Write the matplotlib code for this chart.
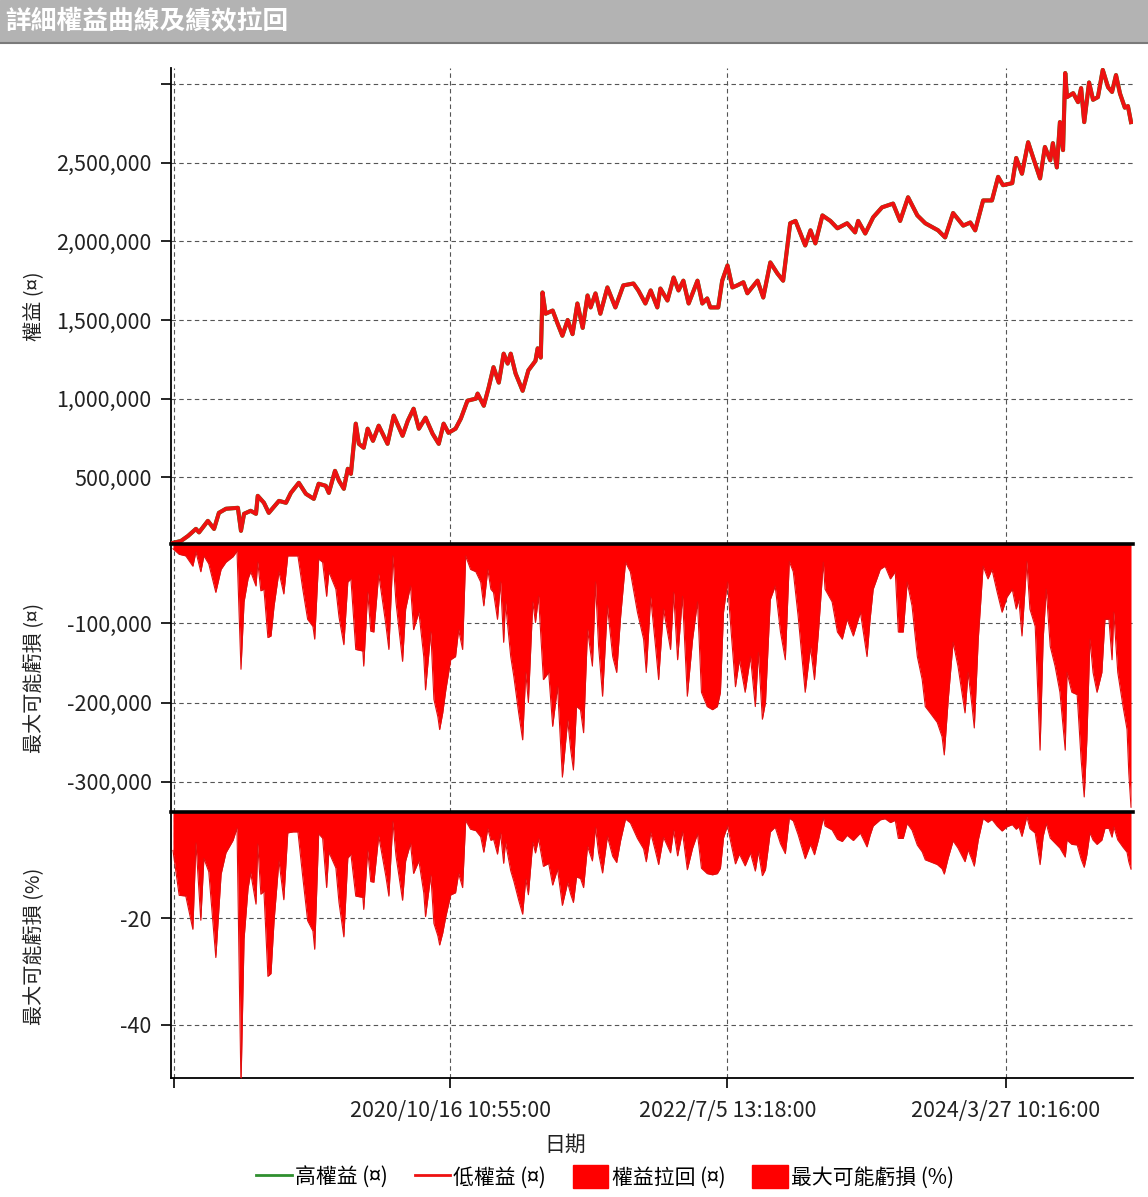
import numpy as np
import matplotlib.pyplot as plt
import matplotlib.dates as mdates
from matplotlib.lines import Line2D
from matplotlib.patches import Patch, Rectangle
from datetime import datetime

plt.rcParams['font.family'] = ['Noto Sans CJK TC', 'DejaVu Sans']

# 權益曲線 (days since 2019/1/27, equity in thousands)
eq_day = np.array([0, 18, 34, 52, 59, 79, 93, 104, 120, 147, 154, 161, 176, 188, 192, 206, 217, 240, 256, 267,
                   285, 301, 319, 330, 346, 353, 367, 376, 387, 396, 403, 414, 421, 432, 441, 453, 466, 486, 500, 520,
                   532, 545, 557, 572, 588, 602, 613, 624, 640, 652, 667, 686, 690, 704, 715, 726, 738, 749, 758, 765,
                   776, 792, 805, 821, 826, 833, 837, 844, 860, 871, 882, 894, 905, 916, 928, 939, 946, 957, 968, 984,
                   1002, 1020, 1043, 1054, 1070, 1082, 1097, 1104, 1120, 1134, 1145, 1156, 1168, 1188, 1199, 1210, 1217, 1235, 1244, 1256,
                   1267, 1278, 1292, 1301, 1324, 1337, 1353, 1369, 1382, 1398, 1410, 1432, 1444, 1455, 1471, 1489, 1505, 1527, 1545, 1552,
                   1568, 1586, 1606, 1631, 1647, 1665, 1686, 1704, 1733, 1749, 1767, 1790, 1806, 1817, 1835, 1855, 1869, 1880, 1901, 1910,
                   1923, 1937, 1948, 1964, 1975, 1987, 1993, 2002, 2009, 2016, 2021, 2025, 2039, 2050, 2057, 2064, 2075, 2084, 2095, 2106,
                   2118, 2127, 2136, 2145, 2156, 2163, 2170])
equity_k = np.array([83, 95, 127, 172, 150, 223, 172, 274, 300, 306, 160, 268, 287, 268, 382, 338, 274, 350, 338, 401,
                     465, 395, 363, 459, 446, 401, 541, 478, 427, 554, 522, 841, 713, 688, 809, 732, 828, 713, 892, 764,
                     860, 936, 809, 879, 777, 713, 841, 783, 809, 873, 987, 1000, 1032, 955, 1070, 1200, 1102, 1286, 1223, 1286,
                     1160, 1050, 1180, 1240, 1320, 1261, 1675, 1540, 1560, 1478, 1400, 1500, 1410, 1605, 1450, 1656, 1580, 1669, 1540, 1707,
                     1580, 1720, 1732, 1688, 1605, 1688, 1580, 1700, 1624, 1770, 1688, 1750, 1605, 1750, 1605, 1637, 1580, 1580, 1750, 1847,
                     1707, 1720, 1740, 1670, 1750, 1643, 1866, 1796, 1750, 2115, 2130, 1974, 2070, 1987, 2165, 2130, 2083, 2115, 2057, 2130,
                     2050, 2153, 2216, 2240, 2130, 2280, 2165, 2115, 2070, 2025, 2180, 2100, 2120, 2070, 2260, 2260, 2410, 2357, 2370, 2530,
                     2430, 2630, 2535, 2400, 2600, 2515, 2624, 2470, 2758, 2580, 3070, 2917, 2942, 2885, 2974, 2758, 3010, 2900, 2917, 3090,
                     2980, 2950, 3057, 2940, 2850, 2860, 2758])

# 權益拉回 (days, thousands)
dd_day = np.array([0, 14, 29, 45, 52, 63, 70, 81, 97, 109, 120, 136, 145, 154, 161, 170, 176, 188, 192, 199,
                   206, 215, 222, 229, 240, 251, 260, 272, 283, 294, 305, 317, 321, 330, 339, 348, 353, 369, 376, 387,
                   396, 403, 414, 430, 432, 441, 448, 455, 466, 482, 489, 498, 505, 520, 527, 538, 545, 557, 568, 572,
                   584, 591, 600, 604, 611, 618, 629, 640, 647, 656, 663, 674, 686, 697, 704, 713, 720, 726, 735, 742,
                   749, 753, 765, 772, 783, 792, 799, 805, 815, 821, 828, 839, 851, 860, 871, 882, 894, 901, 907, 914,
                   923, 930, 939, 950, 957, 964, 973, 984, 996, 1005, 1014, 1025, 1036, 1052, 1066, 1072, 1082, 1093, 1100, 1111,
                   1127, 1134, 1143, 1154, 1165, 1177, 1188, 1197, 1210, 1222, 1233, 1240, 1247, 1256, 1265, 1274, 1283, 1296, 1308, 1319,
                   1326, 1335, 1342, 1353, 1364, 1376, 1387, 1396, 1405, 1416, 1432, 1444, 1453, 1462, 1473, 1477, 1493, 1505, 1516, 1527,
                   1541, 1557, 1572, 1579, 1586, 1602, 1613, 1625, 1636, 1643, 1654, 1663, 1674, 1686, 1697, 1704, 1715, 1731, 1742, 1747,
                   1756, 1767, 1778, 1794, 1801, 1810, 1815, 1824, 1835, 1846, 1855, 1867, 1878, 1889, 1901, 1910, 1916, 1923, 1934, 1941,
                   1953, 1964, 1971, 1978, 1987, 1998, 2009, 2021, 2025, 2036, 2048, 2057, 2064, 2070, 2077, 2084, 2093, 2104, 2111, 2120,
                   2127, 2131, 2140, 2152, 2161, 2165, 2170])
dd_k = np.array([-6, -13, -15, -28, -10, -35, -15, -25, -61, -32, -23, -16, -9, -158, -73, -44, -35, -53, -23, -59,
                 -57, -118, -116, -78, -35, -63, -15, -15, -15, -57, -95, -104, -120, -19, -23, -66, -35, -57, -92, -127,
                 -48, -44, -133, -135, -154, -61, -110, -111, -38, -101, -133, -15, -73, -148, -82, -53, -108, -86, -142, -184,
                 -111, -196, -218, -234, -213, -184, -146, -142, -108, -133, -15, -32, -35, -48, -78, -32, -57, -61, -95, -48,
                 -124, -73, -142, -167, -213, -247, -162, -200, -73, -99, -66, -171, -162, -230, -180, -294, -222, -260, -285, -205,
                 -209, -238, -108, -154, -48, -129, -192, -78, -142, -162, -91, -23, -35, -86, -120, -162, -67, -129, -171, -82,
                 -133, -61, -146, -66, -192, -120, -73, -187, -205, -209, -205, -187, -86, -48, -116, -180, -146, -187, -142, -205,
                 -137, -221, -200, -70, -53, -111, -146, -22, -35, -91, -187, -130, -171, -111, -23, -57, -73, -111, -120, -95,
                 -116, -86, -142, -95, -57, -32, -28, -44, -35, -111, -111, -48, -78, -142, -171, -205, -213, -225, -243, -266,
                 -196, -124, -154, -213, -162, -205, -232, -120, -28, -44, -32, -61, -86, -67, -57, -82, -70, -116, -22, -82,
                 -104, -260, -120, -57, -129, -154, -187, -260, -162, -187, -190, -272, -319, -247, -120, -162, -187, -162, -95, -95,
                 -146, -86, -162, -205, -234, -289, -332])

base = datetime(2019, 1, 27)
tick_dates = [datetime(2019, 1, 29), datetime(2020, 10, 16, 10, 55), datetime(2022, 7, 5, 13, 18), datetime(2024, 3, 27, 10, 16)]
tick_labels = ['', '2020/10/16 10:55:00', '2022/7/5 13:18:00', '2024/3/27 10:16:00']

x0 = mdates.date2num(base)
eq_x = x0 + eq_day
dd_x = x0 + dd_day
equity = equity_k * 1000
dd = dd_k * 1000

# 最大可能虧損 (%) relative to running peak equity
peak = np.maximum.accumulate(equity)
idx = np.clip(np.searchsorted(eq_day, dd_day, side='right') - 1, 0, len(eq_day) - 1)
dd_pct = dd / peak[idx] * 100

W, H = 1148, 1197
fig = plt.figure(figsize=(W / 100, H / 100), dpi=100)

def fy(p):
    return 1 - p / H

left, right = 171 / W, 1133 / W
ax1 = fig.add_axes([left, fy(544), right - left, fy(68) - fy(544)])
ax2 = fig.add_axes([left, fy(812), right - left, fy(544) - fy(812)], sharex=ax1)
ax3 = fig.add_axes([left, fy(1078), right - left, fy(812) - fy(1078)], sharex=ax1)

red = '#ff0000'
ax1.plot(eq_x, equity, color='#2f8f2f', lw=3.0, zorder=3)
ax1.plot(eq_x, equity, color='#ee1111', lw=2.8, zorder=4)
ax2.fill_between(dd_x, dd, 0, color=red, lw=0, zorder=3)
ax2.plot(dd_x, dd, color='#e01010', lw=0.8, zorder=3)
ax3.fill_between(dd_x, dd_pct, 0, color=red, lw=0, zorder=3)
ax3.plot(dd_x, dd_pct, color='#e01010', lw=0.8, zorder=3)

ax1.set_ylim(76000, 3102000)
ax1.set_yticks([500000, 1000000, 1500000, 2000000, 2500000, 3000000])
ax1.set_yticklabels(['500,000', '1,000,000', '1,500,000', '2,000,000', '2,500,000', ''])
ax2.set_ylim(-338000, 0)
ax2.set_yticks([-100000, -200000, -300000])
ax2.set_yticklabels(['-100,000', '-200,000', '-300,000'])
ax3.set_ylim(-50, 0)
ax3.set_yticks([-20, -40])
ax3.set_yticklabels(['-20', '-40'])

ax1.set_xlim(x0 - 4.5, x0 + 2174.5)
ax3.set_xticks(mdates.date2num(tick_dates))
ax3.set_xticklabels(tick_labels)

for ax in (ax1, ax2, ax3):
    ax.grid(True, color='#555555', ls=(0, (4, 3)), lw=0.8)
    ax.set_axisbelow(True)
    ax.spines['right'].set_visible(False)
    ax.spines['top'].set_visible(False)
    ax.spines['bottom'].set_visible(False)
    ax.spines['left'].set_linewidth(1.3)
    ax.tick_params(axis='y', length=7, width=1.2, pad=7, labelsize=15.5, labelcolor='#222222')
    ax.tick_params(axis='x', length=7, width=1.2, pad=9, labelsize=15.5, labelcolor='#222222')
for ax in (ax1, ax2):
    ax.tick_params(axis='x', bottom=False, labelbottom=False)
for ax in (ax2, ax3):
    ax.spines['top'].set_visible(True)
    ax.spines['top'].set_linewidth(2.6)
    ax.spines['top'].set_zorder(5)
ax3.spines['bottom'].set_visible(True)
ax3.spines['bottom'].set_linewidth(1.3)

# title bar
fig.patches.append(Rectangle((0, fy(42)), 1, 42 / H, transform=fig.transFigure, color='#b3b3b3', zorder=0))
fig.add_artist(Line2D([0, 1], [fy(42.5), fy(42.5)], transform=fig.transFigure, color='#7a7a7a', lw=1.5))
fig.text(5 / W, fy(21), '詳細權益曲線及績效拉回', color='white', fontsize=18.5, fontweight='bold', va='center', ha='left')

fig.text(35 / W, fy(306), '權益 (¤)', rotation=90, ha='center', va='center', fontsize=14.5, color='#222222')
fig.text(35 / W, fy(678), '最大可能虧損 (¤)', rotation=90, ha='center', va='center', fontsize=14.5, color='#222222')
fig.text(35 / W, fy(946), '最大可能虧損 (%)', rotation=90, ha='center', va='center', fontsize=14.5, color='#222222')
fig.text(565 / W, fy(1145), '日期', ha='center', va='center', fontsize=15, color='#222222')

handles = [Line2D([], [], color='#2f8f2f', lw=2), Line2D([], [], color='#ee1111', lw=2),
           Patch(color=red), Patch(color=red)]
labels = ['高權益 (¤)', '低權益 (¤)', '權益拉回 (¤)', '最大可能虧損 (%)']
fig.legend(handles, labels, loc='center', bbox_to_anchor=(605 / W, fy(1177)), ncol=4, frameon=False,
           fontsize=15, handlelength=1.7, handleheight=1.3, handletextpad=0.15, columnspacing=1.3)

fig.savefig('out.png', dpi=100)
